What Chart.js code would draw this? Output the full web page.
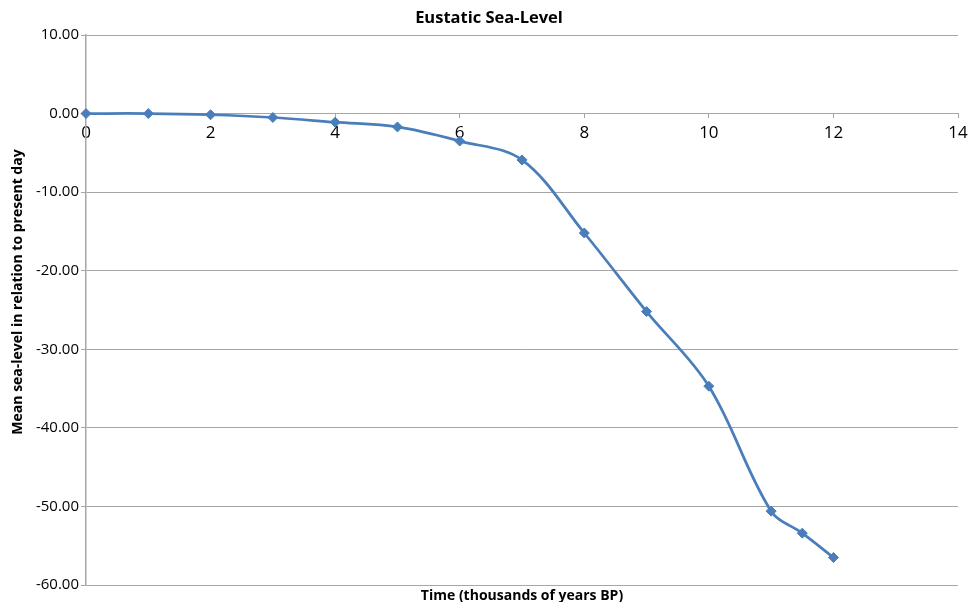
<!DOCTYPE html>
<html>
<head>
<meta charset="utf-8">
<script src="https://cdn.jsdelivr.net/npm/chart.js@4/dist/chart.umd.min.js"></script>
<style>
  html, body { margin: 0; padding: 0; background: #ffffff; }
  #wrap { width: 970px; height: 602px; position: relative; }
</style>
</head>
<body>
<div id="wrap"><canvas id="c" width="970" height="602"></canvas></div>
<script>
// Time before present (thousands of years) and mean sea-level (m)
const timeKyr = [0, 1, 2, 3, 4, 5, 6, 7, 8, 9, 10, 11, 11.5, 12];
const seaLevel = [0, 0, -0.15, -0.5, -1.1, -1.7, -3.5, -5.9, -15.2, -25.2, -34.7, -50.6, -53.4, -56.5];
const xTicks = [0, 2, 4, 6, 8, 10, 12, 14];
const yTicks = [10, 0, -10, -20, -30, -40, -50, -60];

const chartTitle = 'Eustatic Sea-Level';
const xTitle = 'Time (thousands of years BP)';
const yTitle = 'Mean sea-level in relation to present day';

const FONT = "'Open Sans', 'Liberation Sans', sans-serif";
const GRID = '#a6a6a6';
const BLUE = '#4a7ebb';

const points = timeKyr.map((t, i) => ({ x: t, y: seaLevel[i] }));

// Chart title and both axis titles, drawn on top of the chart
const titles = {
  id: 'titles',
  afterDraw(chart) {
    const { ctx, chartArea } = chart;
    ctx.save();
    ctx.fillStyle = '#000000';
    ctx.textAlign = 'center';
    ctx.textBaseline = 'middle';
    ctx.font = 'bold 16.5px ' + FONT;
    ctx.fillText(chartTitle, 489, 18);
    ctx.font = 'bold 14px ' + FONT;
    ctx.fillText(xTitle, (chartArea.left + chartArea.right) / 2, 596);
    ctx.translate(18, 292);
    ctx.rotate(-Math.PI / 2);
    ctx.fillText(yTitle, 0, 0);
    ctx.restore();
  }
};

new Chart(document.getElementById('c'), {
  type: 'scatter',
  data: {
    datasets: [{
      data: points,
      showLine: true,
      borderColor: BLUE,
      backgroundColor: BLUE,
      borderWidth: 2.75,
      tension: 0.35,
      pointStyle: 'rectRot',
      pointRadius: 5,
      pointHoverRadius: 5,
      pointBorderWidth: 1,
      clip: false
    }]
  },
  options: {
    responsive: false,
    animation: false,
    events: [],
    layout: { padding: { top: 35, right: 12, bottom: 17, left: 0 } },
    plugins: {
      legend: { display: false },
      title: { display: false },
      tooltip: { enabled: false }
    },
    scales: {
      x: {
        type: 'linear',
        position: { y: 0 },
        min: 0,
        max: 14,
        afterBuildTicks(scale) { scale.ticks = xTicks.map(v => ({ value: v })); },
        // the end labels may overhang the plot edges without shrinking it
        afterFit(scale) { scale.paddingLeft = 0; scale.paddingRight = 0; },
        ticks: {
          color: '#000000',
          font: { family: FONT, size: 17 },
          padding: 5,
          maxRotation: 0
        },
        grid: { drawOnChartArea: false, color: GRID, tickLength: 4 },
        border: { color: GRID, width: 1 }
      },
      y: {
        type: 'linear',
        min: -60,
        max: 10,
        afterBuildTicks(scale) { scale.ticks = yTicks.map(v => ({ value: v })); },
        afterFit(scale) { scale.width = 86; },
        ticks: {
          color: '#000000',
          font: { family: FONT, size: 15 },
          padding: 2,
          callback: v => v.toFixed(2)
        },
        grid: { color: GRID, tickLength: 5 },
        border: { color: GRID, width: 1.5 }
      }
    }
  },
  plugins: [titles]
});
</script>
</body>
</html>
